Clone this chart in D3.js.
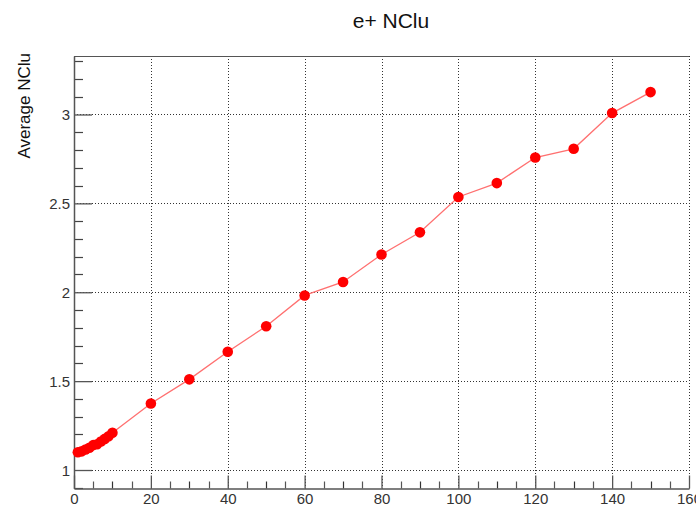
<!DOCTYPE html>
<html>
<head>
<meta charset="utf-8">
<script src="https://cdn.jsdelivr.net/npm/d3@7/dist/d3.min.js"></script>
<style>
  html, body { margin: 0; padding: 0; background: #fff; }
  svg { display: block; font-family: "Liberation Sans", Arial, sans-serif; }
</style>
</head>
<body>
<svg id="chart" width="696" height="508"></svg>
<script>
// Average number of clusters for e+ versus energy
const energies = [1, 2, 3, 4, 5, 6, 7, 8, 9, 10,
                  20, 30, 40, 50, 60, 70, 80, 90, 100, 110, 120, 130, 140, 150];
const avgNClu = [1.100, 1.105, 1.115, 1.125, 1.140, 1.145, 1.160, 1.175, 1.190, 1.210,
                 1.374, 1.510, 1.665, 1.809, 1.982, 2.058, 2.212, 2.337, 2.536, 2.614, 2.758, 2.807, 3.008, 3.126];
const xTicks = [0, 20, 40, 60, 80, 100, 120, 140, 160];
const yTicks = [1, 1.5, 2, 2.5, 3];
const titleText = "e+ NClu";
const yTitle = "Average NClu";

const svg = d3.select("#chart");
const frame = { left: 74, right: 689, top: 56, bottom: 488.5 };

const x = d3.scaleLinear().domain([0, 160]).range([frame.left, frame.right]);
const y = d3.scaleLinear().domain([0.896, 3.329]).range([frame.bottom, frame.top]);

// grid
const grid = svg.append("g").attr("stroke", "#333").attr("stroke-width", 1)
  .attr("stroke-dasharray", "1,2").attr("fill", "none");
grid.selectAll("line.gx").data(xTicks.filter(d => d > 0)).join("line")
  .attr("x1", d => Math.round(x(d)) + 0.5).attr("x2", d => Math.round(x(d)) + 0.5)
  .attr("y1", frame.top).attr("y2", frame.bottom);
grid.selectAll("line.gy").data(yTicks).join("line")
  .attr("y1", d => Math.round(y(d)) + 0.5).attr("y2", d => Math.round(y(d)) + 0.5)
  .attr("x1", frame.left).attr("x2", frame.right);

// top frame edge
svg.append("line").attr("x1", frame.left).attr("x2", frame.right)
  .attr("y1", frame.top + 0.5).attr("y2", frame.top + 0.5)
  .attr("stroke", "#555").attr("stroke-width", 1.2);

// minor ticks
const xMinor = d3.range(0, 161, 5).filter(d => d % 20 !== 0);
const yMinor = d3.range(9, 34).map(d => d / 10).filter(d => Math.abs(d * 2 - Math.round(d * 2)) > 1e-6);
svg.append("g").selectAll("line").data(xMinor).join("line")
  .attr("x1", d => Math.round(x(d)) + 0.5).attr("x2", d => Math.round(x(d)) + 0.5)
  .attr("y1", frame.bottom).attr("y2", frame.bottom - 7)
  .attr("stroke", d => d % 10 === 0 ? "#333" : "#555").attr("stroke-width", 1.2);
svg.append("g").selectAll("line").data(yMinor).join("line")
  .attr("y1", d => Math.round(y(d)) + 0.5).attr("y2", d => Math.round(y(d)) + 0.5)
  .attr("x1", frame.left).attr("x2", frame.left + 9)
  .attr("stroke", "#444").attr("stroke-width", 1.2);

// axes with inward major ticks
const xAxis = svg.append("g").attr("transform", `translate(0,${frame.bottom})`)
  .call(d3.axisBottom(x).tickValues(xTicks).tickSizeInner(-13).tickSizeOuter(0).tickPadding(18)
    .tickFormat(d3.format("d")));
const yAxis = svg.append("g").attr("transform", `translate(${frame.left},0)`)
  .call(d3.axisLeft(y).tickValues(yTicks).tickSizeInner(-18).tickSizeOuter(0).tickPadding(22)
    .tickFormat(d => String(d)));
[xAxis, yAxis].forEach(g => {
  g.select(".domain").attr("stroke", "#555").attr("stroke-width", 1.5);
  g.selectAll(".tick line").attr("stroke", "#555").attr("stroke-width", 1.3);
  g.selectAll(".tick text").attr("fill", "#333").attr("font-size", 15)
    .attr("font-family", "Liberation Sans, Arial, sans-serif");
});
xAxis.selectAll(".tick text").attr("dy", "0.71em").attr("y", 5);
yAxis.selectAll(".tick text").attr("x", -4).attr("dy", "0.36em");

// series line
const pts = energies.map((e, i) => [e, avgNClu[i]]);
svg.append("path").datum(pts)
  .attr("d", d3.line().x(d => x(d[0])).y(d => y(d[1])))
  .attr("fill", "none").attr("stroke", "#ff7070").attr("stroke-width", 1.3);

// markers
svg.append("g").selectAll("circle").data(pts).join("circle")
  .attr("cx", d => x(d[0])).attr("cy", d => y(d[1])).attr("r", 5.3)
  .attr("fill", "#ff0000");

// titles
svg.append("text").attr("x", 391).attr("y", 28).attr("text-anchor", "middle")
  .attr("font-size", 21).attr("fill", "#111").text(titleText);
svg.append("text").attr("transform", "translate(30,53) rotate(-90)")
  .attr("text-anchor", "end").attr("font-size", 17).attr("fill", "#111").text(yTitle);
</script>
</body>
</html>
